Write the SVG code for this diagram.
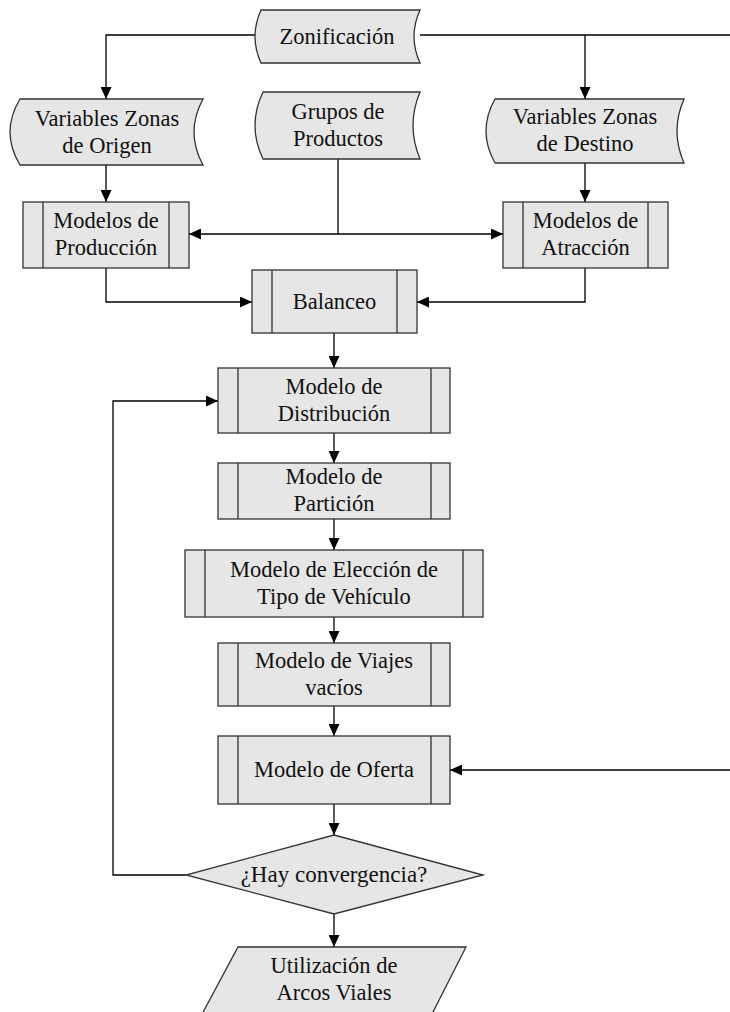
<svg xmlns="http://www.w3.org/2000/svg" width="730" height="1012" viewBox="0 0 730 1012">
<style>
.s{fill:#e6e6e6;stroke:#333;stroke-width:1.3}
.l{fill:none;stroke:#333;stroke-width:1.3}
.c{fill:none;stroke:#000;stroke-width:1.3}
text{font-family:"Liberation Serif","Times New Roman",serif;font-size:22.5px;fill:#111;text-anchor:middle}
</style>
<defs>
<marker id="a" markerUnits="userSpaceOnUse" markerWidth="12" markerHeight="11" refX="12" refY="5.5" orient="auto"><path d="M0,0 L12,5.5 L0,11 Z" fill="#000"/></marker>
</defs>
<rect width="730" height="1012" fill="#fff"/>
<g id="connectors">
<path class="c" d="M255,35 H106 V99" marker-end="url(#a)"/>
<path class="c" d="M420,35 H730"/>
<path class="c" d="M585,35 V99" marker-end="url(#a)"/>
<path class="c" d="M106,165 V202" marker-end="url(#a)"/>
<path class="c" d="M585,163 V202" marker-end="url(#a)"/>
<path class="c" d="M338,159 V234"/>
<path class="c" d="M338,234 H189" marker-end="url(#a)"/>
<path class="c" d="M338,234 H503" marker-end="url(#a)"/>
<path class="c" d="M106,268 V302 H252" marker-end="url(#a)"/>
<path class="c" d="M585,268 V302 H417" marker-end="url(#a)"/>
<path class="c" d="M334,333 V368" marker-end="url(#a)"/>
<path class="c" d="M334,433 V463" marker-end="url(#a)"/>
<path class="c" d="M334,519 V550" marker-end="url(#a)"/>
<path class="c" d="M334,617 V643" marker-end="url(#a)"/>
<path class="c" d="M334,706 V736" marker-end="url(#a)"/>
<path class="c" d="M730,770 H450" marker-end="url(#a)"/>
<path class="c" d="M334,804 V835" marker-end="url(#a)"/>
<path class="c" d="M186,875 H113 V401 H218" marker-end="url(#a)"/>
<path class="c" d="M334,914 V947" marker-end="url(#a)"/>
</g>
<g id="zonificacion">
<path class="s" d="M261,10 L420,10 Q408,36.5 420,63 L261,63 Q249,36.5 261,10 Z"/>
<text x="337" y="44">Zonificación</text>
</g>
<g id="var-origen">
<path class="s" d="M20,99 L203,99 Q185,132 203,165 L20,165 Q0,132 20,99 Z"/>
<text x="107" y="126">Variables Zonas</text>
<text x="107" y="153">de Origen</text>
</g>
<g id="grupos">
<path class="s" d="M263,92 L420,92 Q406,125.5 420,159 L263,159 Q247,125.5 263,92 Z"/>
<text x="338" y="118.5">Grupos de</text>
<text x="338" y="145.5">Productos</text>
</g>
<g id="var-destino">
<path class="s" d="M495,99 L684,99 Q670,131 684,163 L495,163 Q477,131 495,99 Z"/>
<text x="585" y="124">Variables Zonas</text>
<text x="585" y="151">de Destino</text>
</g>
<g id="produccion">
<rect class="s" x="23" y="202" width="166" height="66"/>
<path class="l" d="M43,202 V268 M169,202 V268"/>
<text x="106" y="228">Modelos de</text>
<text x="106" y="255">Producción</text>
</g>
<g id="atraccion">
<rect class="s" x="503" y="202" width="165" height="66"/>
<path class="l" d="M523,202 V268 M648,202 V268"/>
<text x="585.5" y="228">Modelos de</text>
<text x="585.5" y="255">Atracción</text>
</g>
<g id="balanceo">
<rect class="s" x="252" y="270" width="165" height="63"/>
<path class="l" d="M272,270 V333 M397,270 V333"/>
<text x="334.5" y="308.5">Balanceo</text>
</g>
<g id="distribucion">
<rect class="s" x="218" y="368" width="232" height="65"/>
<path class="l" d="M238,368 V433 M431,368 V433"/>
<text x="334" y="393.5">Modelo de</text>
<text x="334" y="420.5">Distribución</text>
</g>
<g id="particion">
<rect class="s" x="218" y="463" width="232" height="56"/>
<path class="l" d="M238,463 V519 M431,463 V519"/>
<text x="334" y="484">Modelo de</text>
<text x="334" y="511">Partición</text>
</g>
<g id="eleccion">
<rect class="s" x="185" y="550" width="298" height="67"/>
<path class="l" d="M205,550 V617 M463,550 V617"/>
<text x="334" y="577">Modelo de Elección de</text>
<text x="334" y="604">Tipo de Vehículo</text>
</g>
<g id="viajes">
<rect class="s" x="218" y="643" width="232" height="63"/>
<path class="l" d="M238,643 V706 M431,643 V706"/>
<text x="334" y="667.5">Modelo de Viajes</text>
<text x="334" y="694.5">vacíos</text>
</g>
<g id="oferta">
<rect class="s" x="218" y="736" width="232" height="68"/>
<path class="l" d="M238,736 V804 M431,736 V804"/>
<text x="334" y="777">Modelo de Oferta</text>
</g>
<g id="convergencia">
<polygon class="s" points="334,835 483,875 334,914 186,875"/>
<text x="334" y="882" style="font-size:23px">¿Hay convergencia?</text>
</g>
<g id="utilizacion">
<polygon class="s" points="238,947 466,947 431,1016 201,1016"/>
<text x="334" y="973">Utilización de</text>
<text x="334" y="1000">Arcos Viales</text>
</g>
</svg>
